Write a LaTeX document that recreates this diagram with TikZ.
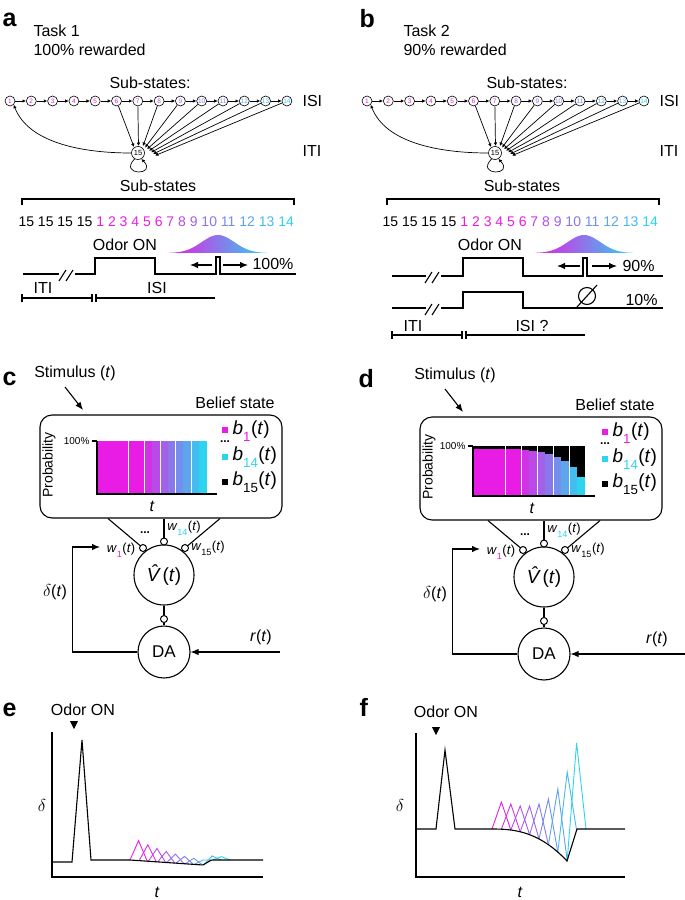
\documentclass[tikz,border=0pt]{standalone}
\usepackage{fontspec}
\setmainfont{Liberation Sans}
\usepackage{tikz}
\usetikzlibrary{arrows.meta}

\definecolor{smag}{RGB}{232,28,228}
\definecolor{scyan}{RGB}{45,212,240}
\colorlet{st1}{smag}
\colorlet{st2}{smag}
\colorlet{st3}{smag}
\colorlet{st4}{smag}
\colorlet{st5}{smag}
\colorlet{st6}{smag}
\colorlet{st7}{scyan!12!smag}
\colorlet{st8}{scyan!25!smag}
\colorlet{st9}{scyan!37!smag}
\colorlet{st10}{scyan!50!smag}
\colorlet{st11}{scyan!62!smag}
\colorlet{st12}{scyan!75!smag}
\colorlet{st13}{scyan!87!smag}
\colorlet{st14}{scyan}

\newcommand{\substaterow}{15 15 15 15 \textcolor{st1}{1} \textcolor{st2}{2} \textcolor{st3}{3} \textcolor{st4}{4} \textcolor{st5}{5} \textcolor{st6}{6} \textcolor{st7}{7} \textcolor{st8}{8} \textcolor{st9}{9} \textcolor{st10}{10} \textcolor{st11}{11} \textcolor{st12}{12} \textcolor{st13}{13} \textcolor{st14}{14}}
\newcommand{\lsub}[1]{\raisebox{-0.4ex}{\textsubscript{#1}}}

\tikzset{
    txt/.style={font=\fontsize{16}{18}\selectfont, inner sep=0pt},
    smalltxt/.style={font=\fontsize{14}{16}\selectfont, inner sep=0pt},
    tinytxt/.style={font=\fontsize{10}{12}\selectfont, inner sep=0pt},
    wtxt/.style={font=\fontsize{13}{15}\selectfont, inner sep=0pt},
    leg/.style={font=\fontsize{19}{21}\selectfont, inner sep=0pt, anchor=west},
    panel/.style={font=\fontsize{25}{25}\selectfont\bfseries, inner sep=0pt, anchor=base west},
    state/.style={circle, draw, line width=0.6pt, minimum size=10pt, inner sep=0pt, font=\fontsize{6.5}{7}\selectfont},
    syn/.style={circle, draw, fill=white, line width=1pt, minimum size=7pt, inner sep=0pt},
    unit/.style={circle, draw, line width=1.1pt, inner sep=0pt},
    arr/.style={-{Latex[length=8pt,width=6.5pt]}},
    chn/.style={-{Latex[length=3.5pt,width=3.5pt]}, line width=0.7pt},
}

\begin{document}
\begin{tikzpicture}[x=1pt, y=-1pt, line width=1.1pt,
    declare function={
        fe(\x)=ifthenelse(\x<203, 860+5*max(\x-130,0)/73, max(865-0.6*(\x-203),860));
        fb(\x)=ifthenelse(\x<567, 829+32*(max(\x-492,0.01)/75)^2.5, max(861-3.2*(\x-567),829));
    }]
    \useasboundingbox (0,0) rectangle (685,900);

    % panel letters
    \node[panel] at (2,26) {a};
    \node[panel] at (359,27) {b};
    \node[panel] at (2,385) {c};
    \node[panel] at (358,387) {d};
    \node[panel] at (2,716) {e};
    \node[panel] at (359,716) {f};

    \node[txt, anchor=west] at (33,31) {Task 1};
    \node[txt, anchor=west] at (33,50) {100\% rewarded};
    \node[txt, anchor=west] at (403,31) {Task 2};
    \node[txt, anchor=west] at (403,50) {90\% rewarded};
    \node[txt] at (150,83) {Sub-states:};
    \node[txt] at (527,83) {Sub-states:};

    % chain of sub-states (a, b)
    \foreach \pn/\sx in {a/0, b/357} {
        \begin{scope}[shift={(\sx,0)}]
            \foreach \i in {1,...,14}
                \node[state, text=st\i] (\pn\i) at ({10+(\i-1)*21.3},101) {\i};
            \foreach \i [count=\j from 2] in {1,...,13}
                \draw[chn] (\pn\i) -- (\pn\j);
            \node[state, minimum size=13pt, font=\fontsize{7.5}{8}\selectfont] (\pn15) at (138,153) {15};
            \coordinate (\pn t6) at (134,147);
            \coordinate (\pn t7) at (138.5,146);
            \foreach \i in {8,...,14}
                \coordinate (\pn t\i) at ({143+(\i-8)*2},{146+(\i-8)*1.6});
            \foreach \i in {6,...,14}
                \draw[chn] (\pn\i) -- (\pn t\i);
            \draw[chn] (\pn15.west) .. controls (80,153) and (28,142) .. (\pn1.south east);
            \draw[chn] (\pn15.-120) .. controls (118,176) and (158,176) .. (\pn15.-60);
            \node[txt, anchor=west] at (302,101) {ISI};
            \node[txt, anchor=west] at (302,151) {ITI};
        \end{scope}
    }

    % timeline a
    \node[txt] at (158,186) {Sub-states};
    \draw (22,205) -- (22,199) -- (294,199) -- (294,205);
    \node[smalltxt, anchor=west] at (18,222) {\substaterow};
    \node[txt] at (125,245) {Odor ON};
    \shade[left color=smag, right color=scyan] plot[domain=168:268, samples=60] (\x,{253-18*exp(0-((\x-218)/23)^2)}) -- cycle;
    \draw (23,274) -- (59,274);
    \draw (59,281) -- (66,270) (66,281) -- (73,270);
    \draw (75,274) -- (95,274) -- (95,258) -- (155,258) -- (155,274) -- (216,274) -- (216,257) -- (220,257) -- (220,274) -- (296,274);
    \coordinate (al) at (190,265);
    \coordinate (ar) at (248,265);
    \draw[arr] (212,265) -- (al);
    \draw[arr] (223,265) -- (ar);
    \node[txt, anchor=west] at (252,264) {100\%};
    \node[txt] at (43,288) {ITI};
    \node[txt] at (157,288) {ISI};
    \draw (22,294) -- (22,302) (22,298) -- (92,298) (92,294) -- (92,302);
    \draw (96,294) -- (96,302) (96,298) -- (215,298);

    % timeline b
    \node[txt] at (522,186) {Sub-states};
    \draw (387,205) -- (387,199) -- (659,199) -- (659,205);
    \node[smalltxt, anchor=west] at (382,222) {\substaterow};
    \node[txt] at (490,245) {Odor ON};
    \shade[left color=smag, right color=scyan] plot[domain=535:634, samples=60] (\x,{253-18*exp(0-((\x-584)/23)^2)}) -- cycle;
    \draw (392,276) -- (426,276);
    \draw (425,283) -- (432,272) (432,283) -- (439,272);
    \draw (441,276) -- (463,276) -- (463,258) -- (523,258) -- (523,276) -- (583,276) -- (583,258) -- (587,258) -- (587,276) -- (663,276);
    \coordinate (bl) at (557,266);
    \coordinate (br) at (617,266);
    \draw[arr] (580,266) -- (bl);
    \draw[arr] (592,266) -- (br);
    \node[txt, anchor=west] at (622,266) {90\%};
    \draw (392,308) -- (426,308);
    \draw (425,315) -- (432,304) (432,315) -- (439,304);
    \draw (441,308) -- (463,308) -- (463,292) -- (523,292) -- (523,308) -- (663,308);
    \draw (587,296) circle[radius=8.5pt];
    \draw (577,307) -- (597,285);
    \node[txt, anchor=west] at (625,300) {10\%};
    \node[txt] at (413,326) {ITI};
    \node[txt] at (532,326) {ISI ?};
    \draw (392,331) -- (392,339) (392,335) -- (462,335) (462,331) -- (462,339);
    \draw (466,331) -- (466,339) (466,335) -- (585,335);

    % belief state model (c, d)
    \foreach \pn/\sx/\sy/\rx/\rl in {c/0/0/280/261, d/380/2/305/277} {
        \begin{scope}[shift={(\sx,\sy)}]
            \node[txt] (\pn stim) at (75,373) {Stimulus (\textit{t})};
            \coordinate (\pn in) at (83,410);
            \draw[arr] ([xshift=-10pt,yshift=-6pt]\pn stim.south) -- (\pn in);
            \node[txt] at (235,403) {Belief state};
            \node[draw, rounded corners=12pt, minimum width=242pt, minimum height=103pt] (\pn box) at (161,466.5) {};
            \node[smalltxt, rotate=90] at (49,465) {Probability};
            \node[txt] at (152,506) {\textit{t}};
            \fill[smag] (222,427) rectangle (228,433);
            \fill[scyan] (222,454) rectangle (228,460);
            \fill (222,479) rectangle (228,485);
            \node[font=\fontsize{12}{12}\bfseries\selectfont, inner sep=0pt] at (225,442) {...};
            \node[leg] at (232,431) {\textit{b}\lsub{\textcolor{smag}{1}}(\textit{t})};
            \node[leg] at (232,457) {\textit{b}\lsub{\textcolor{scyan}{14}}(\textit{t})};
            \node[leg] at (232,482) {\textit{b}\lsub{15}(\textit{t})};
            \node[unit, minimum size=60pt, font=\fontsize{19}{21}\selectfont] (\pn V) at (164,575) {\textit{\^{V}}(\textit{t})};
            \node[syn] (\pn s1) at (143,548) {};
            \node[syn] (\pn s14) at (164,541.5) {};
            \node[syn] (\pn s15) at (185,548) {};
            \draw ([xshift=-53pt]\pn box.south) -- (\pn s1);
            \draw (\pn s14) -- (\pn s14 |- \pn box.south);
            \draw ([xshift=59pt]\pn box.south) -- (\pn s15);
            \node[font=\fontsize{12}{12}\bfseries\selectfont, inner sep=0pt] at (145,533) {...};
            \node[wtxt] at (184,528) {\textit{w}\lsub{\textcolor{scyan}{14}}(\textit{t})};
            \node[wtxt] at (121,550) {\textit{w}\lsub{\textcolor{smag}{1}}(\textit{t})};
            \node[wtxt] at (208,548) {\textit{w}\lsub{15}(\textit{t})};
            \node[syn] (\pn sd) at (164,619) {};
            \node[unit, minimum size=52pt, font=\fontsize{17}{19}\selectfont] (\pn DA) at (164,652) {DA};
            \draw (\pn V) -- (\pn sd) -- (\pn DA);
            \coordinate (\pn fb) at (100,547);
            \draw[arr] (\pn DA.west) -- ++(-65,0) |- (\pn fb);
            \node[txt] at (55,592) {$\delta$(\textit{t})};
            \coordinate (\pn r) at (\rx,652);
            \draw[arr] (\pn r) -- (\pn DA);
            \node[txt] at (\rl,637) {\textit{r}(\textit{t})};
        \end{scope}
    }

    % chart c
    \foreach \i in {1,...,14}
        \fill[st\i] ({97+(\i-1)*7.857},441) rectangle ++(7.9,53);
    \foreach \i in {4,6,...,12}
        \draw[white, line width=0.4pt] ({97+\i*7.857},441) -- ++(0,53);
    \draw (92,441) -- (97,441);
    \draw (97,441) -- (97,494) -- (217,494);
    \node[tinytxt, anchor=east] at (90,441) {100\%};

    % chart d
    \fill (473,446) rectangle (585,496);
    \foreach \i/\tp in {1/449, 2/449, 3/449, 4/449, 5/449, 6/449, 7/449.5, 8/450.5, 9/452, 10/454, 11/457, 12/461, 13/467, 14/477}
        \fill[st\i] ({473+(\i-1)*8},\tp) rectangle ++(8.1,{496-\tp});
    \foreach \i in {4,6,...,12}
        \draw[white, line width=0.4pt] ({473+\i*8},446) -- ++(0,50);
    \draw (468,446) -- (473,446);
    \draw (473,446) -- (473,496) -- (595,496);
    \node[tinytxt, anchor=east] at (466,446) {100\%};

    % delta traces (e)
    \node[txt] at (83,710) {Odor ON};
    \fill (70,721) -- (78,721) -- (74,729) -- cycle;
    \draw (52,732) -- (52,877) -- (263,877);
    \node[txt] at (42,805) {$\delta$};
    \node[txt] at (157,892) {\textit{t}};
    \foreach \k in {0,...,9} {
        \pgfmathsetmacro\xl{130+9.2*\k}
        \pgfmathsetmacro\xp{\xl+8.6}
        \pgfmathsetmacro\xr{\xl+17.2}
        \pgfmathsetmacro\yp{fe(\xp)-20*0.82^\k}
        \pgfmathtruncatemacro\p{100*\k/9}
        \draw[line width=0.9pt, scyan!\p!smag] (\xl,{fe(\xl)}) -- (\xp,\yp) -- (\xr,{fe(\xr)});
    }
    \draw (52,862) -- (72,862) -- (82,740) -- (91,860) -- (130,860) -- plot[domain=130:263, samples=70] (\x,{fe(\x)});

    % delta traces (f)
    \node[txt] at (446,712) {Odor ON};
    \fill (432,727) -- (440,727) -- (436,735) -- cycle;
    \draw (416,733) -- (416,877) -- (625,877);
    \node[txt] at (400,805) {$\delta$};
    \node[txt] at (520,892) {\textit{t}};
    \foreach \k/\py in {0/802, 1/804, 2/806, 3/806, 4/804, 5/799, 6/789, 7/772, 8/743} {
        \pgfmathsetmacro\xl{492+9.4*\k}
        \pgfmathsetmacro\xp{\xl+9.4}
        \pgfmathsetmacro\xr{\xl+18.8}
        \pgfmathtruncatemacro\p{100*\k/8}
        \draw[line width=0.9pt, scyan!\p!smag] (\xl,{fb(\xl)}) -- (\xp,\py) -- (\xr,{fb(\xr)});
    }
    \draw (416,829) -- (436,829) -- (445,750) -- (455,829) -- (492,829) -- plot[domain=492:567, samples=40] (\x,{fb(\x)}) -- (577,829) -- (625,829);
\end{tikzpicture}
\end{document}
